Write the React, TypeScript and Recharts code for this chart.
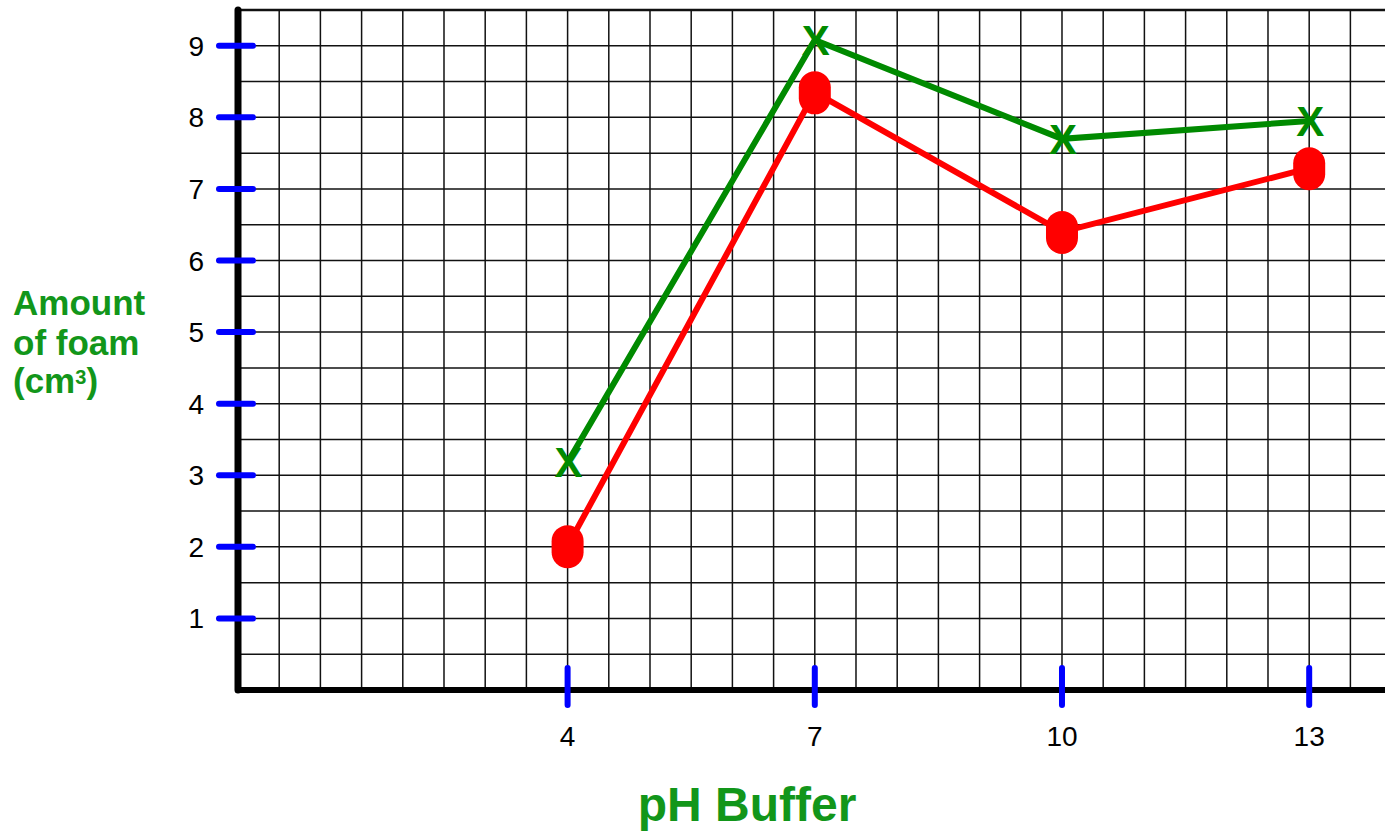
import { LineChart, Line, XAxis, YAxis, CartesianGrid, ReferenceLine } from 'recharts';

// pH buffer values on the x axis
const phValues = [4, 7, 10, 13];
// amount of foam (cm3)
const foamGreen = [3.18, 9.08, 7.7, 7.95];
const foamRed = [2.01, 8.35, 6.4, 7.29];
const yTicks = [1, 2, 3, 4, 5, 6, 7, 8, 9];

const data = phValues.map((ph, i) => ({ ph, green: foamGreen[i], red: foamRed[i] }));

// graph paper: a line every half unit
const gridX = Array.from({ length: 28 }, (_, i) => i * 0.5);
const gridY = Array.from({ length: 20 }, (_, i) => i * 0.5);

const FONT = '"Liberation Sans", Arial, sans-serif';
const GREEN = '#008a00';
const TITLE_GREEN = '#12961a';
const BLUE = '#0000ff';

const YTick = ({ x, y, payload }: any) => (
  <g>
    <line x1={x - 19} x2={x + 15} y1={y} y2={y} stroke={BLUE} strokeWidth={6} strokeLinecap="round" />
    <text x={x - 34} y={y + 10} textAnchor="end" fontSize={28} fontFamily={FONT} fill="#000">
      {payload.value}
    </text>
  </g>
);

const XTick = ({ x, y, payload }: any) => (
  <g>
    <line x1={x} x2={x} y1={y - 22} y2={y + 15} stroke={BLUE} strokeWidth={6} strokeLinecap="round" />
    <text x={x} y={y + 56} textAnchor="middle" fontSize={28} fontFamily={FONT} fill="#000">
      {payload.value}
    </text>
  </g>
);

const RedDot = ({ cx, cy }: any) => (
  <rect x={cx - 16} y={cy - 21} width={32} height={43} rx={16} ry={16} fill="#ff0000" />
);

const GreenCross = ({ cx, cy }: any) => (
  <text x={cx + 1} y={cy + 15} textAnchor="middle" fontSize={42} fontWeight="bold" fontFamily={FONT} fill={GREEN}>
    X
  </text>
);

export default function App() {
  return (
    <div style={{ position: 'absolute', left: 0, top: 0, width: 1385, height: 831, background: '#fff', overflow: 'hidden' }}>
      <LineChart width={1385} height={831} data={data} margin={{ top: 10, right: 0, bottom: 0, left: 0 }}>
        <CartesianGrid
          horizontalValues={gridY}
          verticalValues={gridX}
          stroke="#111"
          strokeWidth={1.5}
        />
        <ReferenceLine y={9.5} stroke="#111" strokeWidth={2.5} />
        <XAxis
          dataKey="ph"
          type="number"
          domain={[0, 13.92]}
          ticks={phValues}
          height={141}
          tickSize={0}
          tickMargin={0}
          tickLine={false}
          axisLine={{ stroke: '#000', strokeWidth: 6, strokeLinecap: 'round' }}
          tick={<XTick />}
          allowDataOverflow
        />
        <YAxis
          type="number"
          domain={[0, 9.5]}
          ticks={yTicks}
          width={238}
          tickSize={0}
          tickMargin={0}
          tickLine={false}
          axisLine={{ stroke: '#000', strokeWidth: 7, strokeLinecap: 'round' }}
          tick={<YTick />}
          allowDataOverflow
        />
        <Line
          dataKey="red"
          stroke="#ff0000"
          strokeWidth={6}
          dot={<RedDot />}
          activeDot={false}
          isAnimationActive={false}
        />
        <Line
          dataKey="green"
          stroke={GREEN}
          strokeWidth={6}
          dot={<GreenCross />}
          activeDot={false}
          isAnimationActive={false}
        />
      </LineChart>
      <svg width={1385} height={831} style={{ position: 'absolute', left: 0, top: 0, pointerEvents: 'none' }}>
        <g fontFamily={FONT} fontWeight="bold" fill={TITLE_GREEN} fontSize={35}>
          <text x={13} y={315}>Amount</text>
          <text x={13} y={355}>of foam</text>
          <text x={13} y={393}>
            (cm<tspan fontSize={20} dy={-9}>3</tspan>
            <tspan dy={9}>)</tspan>
          </text>
          <text x={747} y={821} textAnchor="middle" fontSize={48}>pH Buffer</text>
        </g>
      </svg>
    </div>
  );
}
